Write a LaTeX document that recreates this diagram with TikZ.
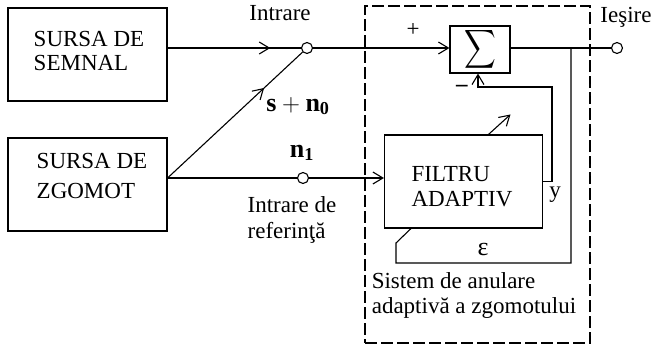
\documentclass[tikz,border=0pt]{standalone}
\usepackage{fontspec}
\setmainfont{Liberation Serif}
\usetikzlibrary{arrows.meta,decorations.markings}
\begin{document}
\begin{tikzpicture}[x=1pt,y=-1pt,
  every node/.style={font=\fontsize{23}{25}\selectfont, inner sep=0pt},
  wire/.style={line width=1.1pt},
  box/.style={draw, line width=1.1pt, inner sep=0pt},
  port/.style={circle, draw, fill=white, line width=1.1pt, minimum size=11pt, inner sep=0pt},
  tip/.style={-{Straight Barb[length=10pt,width=12pt]}},
  midarrow/.style={postaction={decorate}, decoration={markings,
     mark=at position #1 with {\arrow{Straight Barb[length=10pt,width=12pt]}}}},
  sysbox/.style={draw, line width=1.1pt, dash pattern=on 12pt off 4pt, inner sep=0pt}
]
\useasboundingbox (0,0) rectangle (657,346);

% system boundary
\node[sysbox, minimum width=225pt, minimum height=337pt] (sys) at (477.5,174.5) {};

% source boxes
\node[box, minimum width=159pt, minimum height=93pt] (src1) at (87.5,54.5) {};
\node[align=left, font=\fontsize{23}{23.5}\selectfont] (src1t) at (89,51) {SURSA DE\\SEMNAL};
\node[box, minimum width=159pt, minimum height=93pt] (src2) at (87.5,184.5) {};
\node[align=left, font=\fontsize{23}{30}\selectfont] (src2t) at (92,176) {SURSA DE\\ZGOMOT};

% summer and filter
\node[box, minimum width=60pt, minimum height=47pt] (sig) at (480,49.5)
  {\scalebox{2.2}[2.7]{$\displaystyle\sum$}};
\node[box, minimum width=158pt, minimum height=93pt] (filt) at (463.5,181.5) {};
\node[align=left] (filtt) at (462,186.5) {FILTRU\\ADAPTIV};

% ports
\node[port] (c1) at (307,48) {};
\node[port] (c2) at (303,178) {};
\node[port] (cout) at (617,48) {};
\coordinate (j) at (src2.east |- c2);
\coordinate (k) at (571,48);

% connectors
\draw[wire, midarrow=0.77] (src1.east |- c1) -- (c1);
\draw[wire, midarrow=0.715] (j) -- (c1);
\draw[wire] (j) -- (c2);
\draw[wire, tip] (c2) -- (filt.west |- c2);
\draw[wire, tip] (c1) -- (sig.west |- c1);
\draw[wire] (sig.east |- c1) -- (cout);
\draw[wire] (k) -- (571,263) -- (396,263) -- (396,243) -- ([xshift=27pt]filt.south west);
\draw[wire, tip] (filt.east) -| (552,87) -| ([xshift=-2pt]sig.south);
\draw[wire, tip] ([xshift=25pt]filt.north) -- ++(22,-20);

% labels
\node (lin) at (280,13) {Intrare};
\node (lplus) at (413,30) {+};
\node (lminus) at (462,88) {\textbf{–}};
\node (lout) at (626,17) {Ieşire};
\node (lsn) at (298,106) {\fontsize{26}{26}\selectfont$\mathbf{s + n_0}$};
\node (ln1) at (302,153) {\fontsize{26}{26}\selectfont$\mathbf{n_1}$};
\node[align=left, font=\fontsize{23}{26}\selectfont] (lref) at (292,220) {Intrare de\\referinţă};
\node (ly) at (555,195) {y};
\node (leps) at (483,249) {\fontsize{26}{26}\selectfont ε};
\node[align=left] (lsys) at (474,295.5) {Sistem de anulare\\adaptivă a zgomotului};
\end{tikzpicture}
\end{document}
